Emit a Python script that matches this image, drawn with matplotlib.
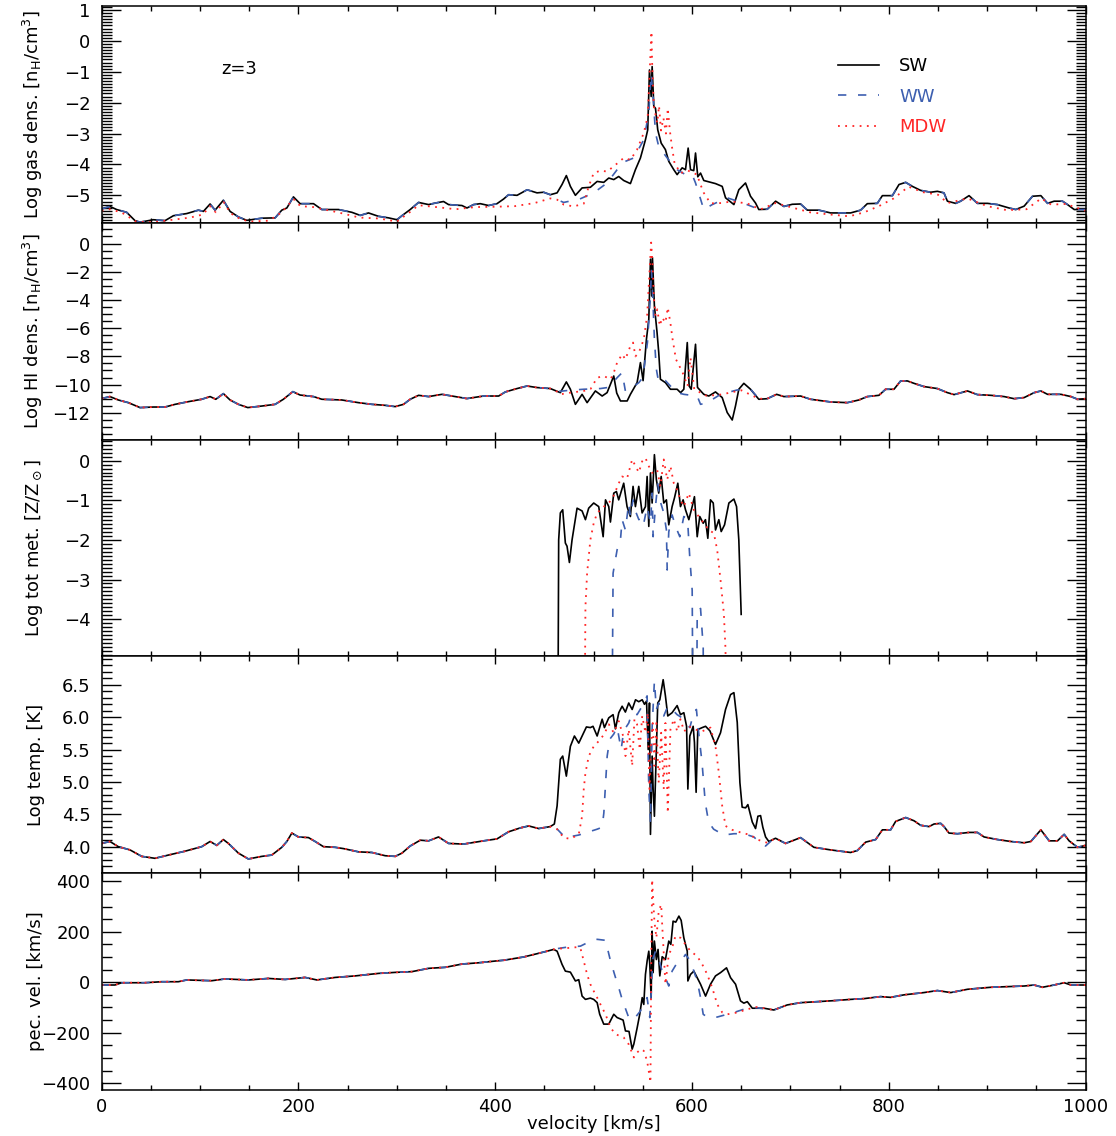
import numpy as np
import matplotlib
matplotlib.use("Agg")
import matplotlib.pyplot as plt
from matplotlib.ticker import MultipleLocator, FormatStrFormatter

# ---------------- Panel 1: Log gas density ----------------
gas_left_x = [0, 8.4, 15.2, 25.4, 33.9, 39, 52.5, 64.4, 72.9, 86.5, 98.3, 103.4, 110.2, 115.3, 123.7, 130.5,
              139, 147.5, 162.8, 176.3, 183.1, 188.2, 194.9, 201.7, 215.3, 223.8, 240.7, 254.3, 262.8, 271.2,
              281.4, 291.6, 300.1, 305.2, 313.6, 322.1, 332.3, 339.1, 347.5, 352.6, 366.2, 371.3, 378, 384.8,
              393.3, 401.8, 408.5, 413.6, 422.2, 432.4, 442.5, 449.2, 456]
gas_left = [-5.44, -5.36, -5.46, -5.55, -5.82, -5.87, -5.79, -5.82, -5.66, -5.59, -5.48, -5.52, -5.28, -5.48,
            -5.16, -5.52, -5.70, -5.81, -5.74, -5.73, -5.48, -5.41, -5.05, -5.27, -5.27, -5.46, -5.46, -5.55,
            -5.65, -5.57, -5.68, -5.73, -5.79, -5.66, -5.46, -5.23, -5.30, -5.25, -5.20, -5.30, -5.33, -5.41,
            -5.30, -5.27, -5.33, -5.27, -5.12, -4.98, -5.0, -4.82, -4.92, -4.9, -4.98]
gas_sw_x = [462.9, 467.9, 472.3, 476.4, 481.5, 488.3, 496.7, 503.6, 510.3, 515.4, 520.5, 525.5, 530.6, 537.4,
            542.5, 547.6, 552.7, 555, 556.8, 558.5, 559.5, 561.2, 562.9, 565.2, 568.7, 573, 576.4, 581.5, 584.9,
            590, 593.4, 596.1, 598.5, 601.8, 603.6, 605.9, 608.7, 612, 623.9, 630.7, 634.1, 642.6, 647.6, 654.4,
            659.5, 664.6]
gas_sw = [-4.92, -4.65, -4.36, -4.71, -5.0, -4.76, -4.74, -4.55, -4.58, -4.44, -4.49, -4.39, -4.52, -4.62,
          -4.17, -3.79, -3.20, -2.88, -0.94, -1.80, -0.83, -2.12, -2.18, -2.88, -3.31, -3.52, -3.90, -4.17, -4.33,
          -4.11, -4.17, -3.47, -4.17, -4.2, -3.63, -4.4, -4.28, -4.52, -4.62, -4.71, -5.08, -5.30, -4.82, -4.60,
          -5.03, -5.25]
gas_ww_x = [462.9, 469.6, 485.9, 500.1, 513.7, 523.9, 532.3, 540.8, 551, 556.1, 558.5, 560.5, 562.9, 566.2,
            574.8, 584.9, 593.4, 600.2, 603.6, 612, 620.6, 635.8, 652.7, 664]
gas_ww = [-5.14, -5.23, -5.12, -4.92, -4.60, -4.17, -3.90, -3.79, -3.20, -2.34, -1.05, -1.8, -2.98, -3.42,
          -3.79, -4.17, -4.33, -4.33, -4.6, -5.46, -5.30, -5.08, -5.26, -5.4]
gas_mdw_x = [462.9, 469.6, 479.8, 490, 495, 500.1, 506.9, 513.7, 520.5, 530.6, 537.4, 544.2, 551, 555, 558.8,
             559.5, 561.2, 564.7, 566.5, 568.5, 571, 573.5, 575.4, 577.5, 579.5, 582.2, 588.3, 596, 605.3, 608,
             612, 618.8, 630, 640, 656.1, 666.3]
gas_mdw = [-5.14, -5.30, -5.36, -5.27, -4.71, -4.28, -4.20, -4.23, -4.06, -3.79, -3.85, -3.52, -2.98, -2.45,
           0.3, -0.72, -2.12, -2.66, -2.1, -2.9, -2.5, -3.0, -2.18, -2.9, -3.4, -3.95, -4.28, -4.2, -4.33, -4.6,
           -4.92, -5.26, -5.25, -5.2, -5.26, -5.41]
gas_mdw_left_x = [0, 8, 20, 35, 52, 70, 90, 103, 110, 116, 124, 131, 140, 150, 170, 183, 195, 202, 215, 240,
                  262, 282, 300, 313, 322, 340, 360, 380, 400, 420, 440, 456]
gas_mdw_left = [-5.50, -5.45, -5.55, -5.85, -5.87, -5.80, -5.72, -5.62, -5.35, -5.55, -5.22, -5.58, -5.75,
                -5.85, -5.82, -5.55, -5.12, -5.35, -5.38, -5.55, -5.72, -5.75, -5.85, -5.55, -5.32, -5.38,
                -5.45, -5.38, -5.37, -5.35, -5.25, -5.10]
gas_right_x = [667.9, 676.5, 685, 693.4, 701.9, 710.4, 717.2, 729, 740.9, 761.2, 771.4, 778.2, 788.4, 793.5,
               803.7, 810.4, 817.2, 824, 832.4, 842.6, 849.4, 856.1, 859.6, 868, 873, 881.6, 890.1, 900.3,
               910.5, 922.3, 929.1, 937.6, 946.1, 954.6, 961.4, 968.1, 976.6, 981.7, 988.5, 1000]
gas_right = [-5.46, -5.45, -5.19, -5.36, -5.29, -5.28, -5.48, -5.48, -5.57, -5.57, -5.48, -5.27, -5.26, -5.01,
             -5.01, -4.65, -4.58, -4.71, -4.84, -4.90, -4.87, -4.92, -5.19, -5.26, -5.19, -5.01, -5.26, -5.26,
             -5.30, -5.41, -5.46, -5.35, -5.03, -5.01, -5.26, -5.19, -5.19, -5.30, -5.46, -5.46]
gas_mdw_right_x = [670, 685, 700, 720, 740, 760, 775, 790, 805, 820, 835, 850, 860, 880, 900, 920, 940, 955,
                   965, 980, 1000]
gas_mdw_right = [-5.45, -5.25, -5.38, -5.55, -5.62, -5.68, -5.55, -5.35, -5.10, -4.72, -4.9, -4.98, -5.25,
                 -5.1, -5.35, -5.48, -5.45, -5.1, -5.3, -5.28, -5.5]

# ---------------- Panel 2: Log HI density ----------------
hi_left_x = [0, 8.4, 16.9, 27.1, 39, 52.5, 64.4, 74.6, 88.1, 101.7, 110.2, 116, 123.7, 130.5, 139, 148.5,
             162.8, 176.3, 184.7, 194.3, 201.7, 215.3, 223.8, 244.1, 261, 274.7, 288.2, 298.4, 306.8, 313.6,
             322.1, 332.3, 345.9, 356, 371.3, 388.2, 403.5, 410.3, 422.2, 432.4, 442.5, 456]
hi_left = [-10.99, -10.85, -11.09, -11.28, -11.63, -11.59, -11.59, -11.40, -11.21, -11.04, -10.85, -11.04,
           -10.64, -11.09, -11.40, -11.63, -11.52, -11.40, -11.04, -10.50, -10.74, -10.85, -11.04, -11.09,
           -11.28, -11.40, -11.47, -11.56, -11.40, -11.04, -10.76, -10.85, -10.69, -10.81, -10.99, -10.81,
           -10.81, -10.52, -10.28, -10.10, -10.21, -10.28]
hi_sw_x = [466.2, 472.3, 476.4, 481.5, 488.3, 493.4, 501.8, 508.7, 513.7, 520.5, 523.5, 527.3, 534.1, 537.4,
           544.2, 547.6, 550.3, 553.7, 556.1, 557.8, 559.1, 559.8, 561.8, 564.5, 566.2, 567.9, 573, 578.1, 584.9,
           588.4, 591.7, 595.2, 597.1, 599.2, 603.6, 605.6, 612, 617.1, 623.9, 630.7, 635.8, 640.9, 644.2,
           647.6, 652.7, 659.5, 667.9]
hi_sw = [-10.57, -9.81, -10.33, -11.40, -10.69, -11.28, -10.45, -10.81, -10.57, -9.39, -10.6, -11.16, -11.16,
         -10.69, -9.86, -8.44, -9.72, -6.79, -5.37, -1.11, -3.72, -0.99, -4.43, -6.31, -7.73, -9.62, -9.86,
         -10.33, -10.33, -10.57, -10.33, -7.02, -10.10, -10.33, -7.14, -10.2, -10.69, -10.81, -10.52, -10.92,
         -11.98, -12.51, -11.52, -10.33, -9.91, -10.33, -11.04]
hi_ww_x = [462.9, 476, 490, 506.9, 515, 523.9, 529, 532.3, 539.2, 546, 550, 554.7, 557.8, 558.8, 560.5, 561.8,
           563.8, 566.2, 573, 578.1, 584.9, 591.7, 605.3, 608.7, 615.4, 629.1, 646, 659.5, 668]
hi_ww = [-10.5, -10.4, -10.33, -10.28, -10.2, -9.51, -9.15, -10.45, -10.21, -9.86, -9.5, -7.02, -3.72, -1.82,
         -4.43, -6.79, -8.91, -9.86, -9.72, -10.10, -10.57, -10.69, -10.81, -11.40, -11.28, -10.69, -10.38,
         -10.33, -11.0]
hi_mdw_x = [462.9, 466.2, 476.4, 490, 497, 503.6, 510.3, 517.2, 520.5, 523.9, 529, 532.3, 537.4, 540.1, 542.5,
            546, 551, 554.4, 556.8, 558.5, 559.8, 561.2, 562.9, 564.7, 567.3, 569.7, 573, 575.4, 578, 580.3,
            583.7, 587.1, 590.5, 595.5, 598.5, 602.3, 608.6, 615, 630, 650, 668]
hi_mdw = [-10.5, -10.69, -10.57, -10.45, -10.3, -9.51, -9.39, -9.62, -9.15, -8.44, -7.85, -8.21, -7.26, -7.02,
          -8.0, -7.73, -6.79, -5.13, -2.06, 0.07, -1.35, -3.72, -5.13, -4.66, -5.84, -5.25, -5.6, -4.54, -5.6,
          -6.79, -8.21, -8.67, -9.15, -10.10, -8.1, -10.33, -10.57, -10.8, -10.7, -10.4, -11.0]
hi_right_x = [676.5, 686, 693.4, 710.4, 720.5, 740.9, 757.9, 769.7, 778.2, 790, 796.8, 805.3, 812.1, 818.9,
              825.6, 835.8, 849.4, 859.6, 866.4, 880, 890.1, 903.7, 917.3, 927.5, 937.6, 947.8, 954.6, 961.4,
              975, 985.2, 992, 1000]
hi_right = [-11.0, -10.69, -10.85, -10.81, -11.04, -11.23, -11.28, -11.09, -10.85, -10.76, -10.33, -10.33,
            -9.74, -9.74, -9.91, -10.14, -10.28, -10.57, -10.71, -10.45, -10.71, -10.76, -10.85, -11.0, -10.92,
            -10.57, -10.45, -10.69, -10.69, -10.85, -11.04, -11.0]

# ---------------- Panel 3: Log total metallicity ----------------
met_sw_x = [463.2, 464.5, 466.2, 468.6, 471.3, 473, 475.4, 478.1, 483.2, 488.3, 491.7, 495, 500.1, 505.2,
            509.7, 512.1, 515.4, 517.1, 520.5, 523.2, 525.5, 530.6, 534, 537.4, 540.1, 542.5, 545.9, 549.3,
            552.7, 554.4, 556.1, 557.8, 559.5, 561.8, 563.8, 566.2, 568.7, 571.3, 574, 576.4, 579.8, 582.2,
            585.6, 588.3, 591, 593.4, 596.8, 600.2, 602.5, 605.3, 607.9, 611.4, 613.7, 616.1, 618.8, 621.6,
            623.9, 627.3, 629.7, 633.1, 637.5, 642.6, 645.3, 647.6, 650]
met_sw = [-10, -2.0, -1.32, -1.24, -2.08, -2.16, -2.57, -2.0, -1.20, -1.27, -1.49, -1.20, -1.07, -1.16, -1.92,
          -0.99, -1.16, -1.55, -0.82, -0.78, -0.99, -0.57, -1.16, -1.41, -0.65, -1.16, -0.65, -1.32, -1.16,
          -0.40, -1.66, -0.31, -1.07, 0.15, -0.48, -0.82, -0.40, -1.07, -0.99, -1.62, -1.16, -0.94, -0.57,
          -1.16, -0.99, -1.24, -1.49, -1.16, -0.91, -1.92, -1.41, -1.58, -1.49, -1.96, -0.99, -1.07, -1.75,
          -1.49, -1.79, -1.62, -1.07, -0.97, -1.16, -2.0, -3.88]
met_ww_x = [517.8, 519.8, 523.9, 527.3, 529, 532.3, 535.7, 537.4, 540.1, 542.5, 546, 548.3, 551, 554.4, 557.8,
            559.5, 560.5, 562.9, 565.2, 567.3, 571.3, 574, 574.8, 576.4, 579.8, 583.3, 587.6, 591.7, 595.5,
            597.7, 600.2, 601.8, 604, 605.3, 608.7, 610, 611.4, 612.2]
met_ww = [-10, -2.84, -2.25, -2.0, -1.49, -1.75, -1.07, -1.41, -0.99, -1.27, -1.49, -1.41, -1.58, -1.16,
          -1.58, -0.82, -1.92, -1.16, -0.57, -0.99, -1.32, -1.75, -2.76, -1.8, -1.37, -1.66, -1.92, -1.41,
          -1.49, -2.42, -3.27, -10, -10, -3.86, -3.73, -4.2, -4.70, -10]
met_mdw_x = [490, 491.7, 493.4, 496.7, 500.1, 503.6, 510.4, 515.5, 520.5, 525.6, 529, 534, 539.2, 542.6, 546,
             549.3, 552.7, 556.1, 559.5, 564.6, 567.9, 571.3, 574.8, 578.1, 581.5, 584.9, 588.4, 591.7, 596.8,
             601.8, 606.9, 612, 617.1, 622.2, 625.6, 629, 632.4, 634.1, 635]
met_mdw = [-10, -3.69, -2.84, -2.0, -1.58, -1.32, -1.16, -1.07, -0.88, -0.57, -0.40, -0.45, 0.03, -0.14, -0.3,
           -0.02, 0.07, -0.14, -0.31, -0.23, -0.65, 0.03, -0.48, -0.14, -0.57, -0.74, -0.99, -1.16, -0.82,
           -1.24, -1.41, -1.58, -1.75, -1.83, -2.25, -3.01, -3.86, -4.78, -10]

# ---------------- Panel 4: Log temperature ----------------
temp_left_x = [0, 8.4, 16.9, 28.8, 40.7, 54.2, 67.8, 84.7, 101.7, 110.2, 117, 123.7, 128.8, 139, 149.1,
               162.8, 172.9, 183.1, 188.2, 193.3, 200, 210.2, 217, 225.4, 237.3, 245.8, 261, 274.7, 288.2,
               298.4, 305.2, 313.6, 323.8, 332.3, 342.4, 352.6, 367.9, 388.2, 401.8, 413.6, 425.5, 434, 444.2,
               456]
temp_left = [4.05, 4.08, 4.0, 3.95, 3.85, 3.82, 3.87, 3.93, 4.0, 4.08, 4.02, 4.11, 4.05, 3.90, 3.81, 3.85,
             3.87, 3.99, 4.08, 4.21, 4.15, 4.14, 4.08, 4.0, 3.99, 3.97, 3.92, 3.91, 3.86, 3.85, 3.90, 4.01,
             4.10, 4.09, 4.15, 4.05, 4.04, 4.09, 4.12, 4.23, 4.29, 4.32, 4.28, 4.31]
temp_sw_x = [460.1, 462.9, 466.2, 468.6, 472.3, 476.4, 480.5, 484.9, 492.7, 496.7, 499.4, 503.6, 508.7, 511,
             515.4, 519.8, 522.2, 525.6, 529, 532.3, 535.7, 539.2, 542.6, 545.9, 549.4, 551.7, 553.8, 555.5,
             556.8, 557.8, 559.5, 560.5, 561.8, 563.6, 565.2, 567.3, 570.7, 573, 575.4, 579.8, 584.9, 588.3,
             591.7, 594.5, 595.8, 597.8, 601.2, 602.5, 604.2, 605.9, 610.4, 613.8, 618.2, 623.9, 629, 634.1,
             639.2, 642.6, 646, 648.7, 651, 654.5, 656.8, 661.3, 664.6, 667, 669.7, 672, 674.8, 678.1]
temp_sw = [4.35, 4.63, 5.35, 5.40, 5.09, 5.55, 5.71, 5.60, 5.85, 5.84, 5.86, 5.71, 5.97, 5.84, 5.99, 6.04,
           5.82, 6.07, 6.17, 6.08, 6.22, 6.12, 6.27, 6.24, 6.27, 6.20, 6.25, 5.50, 6.22, 4.19, 5.40, 4.89, 4.47,
           5.40, 6.22, 6.27, 6.58, 6.33, 6.02, 6.07, 6.18, 6.04, 6.07, 5.86, 4.89, 5.71, 5.86, 5.61, 4.84, 5.81,
           5.84, 5.86, 5.79, 5.58, 5.76, 6.12, 6.35, 6.38, 5.92, 4.99, 4.61, 4.60, 4.65, 4.38, 4.28, 4.47, 4.48,
           4.3, 4.15, 4.08]
temp_ww_x = [459.4, 466.2, 471.3, 485, 503.6, 508.7, 510.4, 513.8, 516.4, 520.5, 523.9, 528, 530.6, 535.7,
             539.2, 544.2, 549.3, 554.4, 556.1, 557.8, 559.5, 561.8, 563.8, 566.2, 571.3, 575.4, 579.8, 584.9,
             590, 593.4, 597.8, 601.8, 604.5, 606.8, 610.2, 613.5, 616.9, 622, 632.4, 642.6, 652.7, 662.9,
             669.7, 674.8, 679.8]
temp_ww = [4.33, 4.22, 4.14, 4.18, 4.27, 4.30, 4.52, 5.40, 5.66, 5.74, 5.85, 5.50, 5.79, 5.91, 6.07, 6.04,
           6.17, 6.33, 4.89, 4.37, 5.85, 6.56, 6.12, 6.22, 6.02, 6.17, 6.12, 6.04, 5.99, 5.91, 5.84, 6.07, 6.12,
           5.76, 5.30, 4.68, 4.38, 4.27, 4.18, 4.20, 4.20, 4.15, 4.05, 4.01, 4.08]
temp_mdw_x = [462.9, 469.6, 476.4, 484.9, 488.3, 490, 491.7, 495.1, 500.1, 505.2, 510.4, 515.5, 520.5, 525.6,
              530, 532.4, 535.7, 539.2, 541.5, 544.2, 546.9, 549.4, 552.7, 555.1, 556.8, 558.5, 560.1, 561.8,
              563.8, 566.2, 568.7, 571.3, 573, 575.4, 578.1, 581.5, 585, 588.3, 592, 596.8, 603.6, 610, 618.8,
              623.9, 627.3, 630.7, 634.1, 640.9, 649.3, 659.5, 666.3, 676.5]
temp_mdw = [4.27, 4.14, 4.12, 4.19, 4.47, 4.89, 5.14, 5.40, 5.55, 5.63, 5.73, 5.89, 5.76, 5.94, 5.71, 5.40,
            5.81, 5.25, 5.97, 5.89, 5.50, 6.02, 5.76, 6.07, 4.89, 5.61, 5.91, 5.25, 5.91, 4.99, 5.76, 4.89,
            5.91, 4.52, 5.81, 5.97, 5.78, 5.97, 5.78, 5.86, 5.81, 5.78, 5.84, 5.55, 5.14, 4.63, 4.32, 4.26,
            4.22, 4.18, 4.11, 4.06]
temp_right_x = [684.9, 695.1, 710.4, 723.9, 740.9, 761.2, 768, 776.5, 786.7, 793.5, 801.9, 807, 817.2, 825.7,
                832.4, 840.9, 846, 852.8, 856.2, 861.2, 869.8, 881.6, 890.1, 896.9, 910.5, 924, 937.6, 944.4,
                954.6, 963, 971.5, 978.3, 983.3, 991.9, 1000]
temp_right = [4.13, 4.05, 4.14, 3.99, 3.95, 3.91, 3.94, 4.07, 4.11, 4.26, 4.26, 4.39, 4.45, 4.40, 4.33, 4.31,
              4.35, 4.36, 4.31, 4.21, 4.20, 4.22, 4.22, 4.15, 4.11, 4.08, 4.06, 4.08, 4.26, 4.09, 4.09, 4.19,
              4.09, 3.99, 4.02]

# ---------------- Panel 5: peculiar velocity ----------------
vel_left_x = [0, 13.5, 20.3, 44, 61, 77.9, 86.5, 111.9, 125.4, 149.1, 169.5, 186.5, 206.8, 218.7, 237.3, 257.6,
              281.4, 298.4, 315.4, 332.3, 349.2, 366.2, 383.1, 400.1, 408.5, 428.9, 442.5, 452.7, 459.4]
vel_left = [-11, -11, -2, -2, 2, 2, 9, 6, 13, 9, 15, 11, 19, 9, 19, 25, 35, 39, 42, 55, 59, 72, 77, 84, 87,
            100, 113, 123, 130]
vel_sw_x = [462.9, 467.9, 471.3, 476.4, 481.5, 484.9, 488.3, 491.7, 496.7, 500.1, 503.6, 506.2, 510.3, 515.4,
            520.5, 523.9, 530, 532.4, 536, 539.2, 540.9, 544.3, 546.9, 549.4, 551, 552.7, 554.4, 556.1, 557.1,
            558.5, 559.5, 560.5, 561.8, 563.8, 565.5, 567.3, 569.7, 573, 576.4, 578.5, 580.8, 583.5, 586.7, 589,
            591.7, 595.2, 595.8, 598.5, 601.9, 608.7, 613.8, 618.8, 623.9, 629, 635.1, 639.2, 644.3, 649.3,
            652.7, 656.2, 661.3, 673.1]
vel_sw = [123, 71, 44, 40, 5, 10, -55, -68, -63, -68, -81, -127, -166, -166, -127, -140, -150, -193, -195, -265,
          -245, -180, -127, -61, -88, 31, 84, 123, 71, -61, 202, 38, 163, 90, 130, 25, 101, 90, 163, 150, 242,
          238, 262, 245, 176, 123, 5, 31, 44, -8, -55, -8, 25, 38, 57, 18, -8, -74, -83, -77, -103, -103]
vel_ww_x = [462.9, 473, 486.6, 493.4, 503.6, 512.1, 517.2, 522.3, 525.6, 529, 535.7, 540, 544.3, 547.6, 551,
            554.4, 557.1, 558.5, 560.1, 562.9, 566.2, 569.7, 573, 576.4, 579.8, 584.9, 590, 593.4, 598.5, 601.9,
            605.3, 608.7, 611.4, 615.4, 625.6, 635.9, 642.6, 652.7, 662.9, 673]
vel_ww = [133, 139, 143, 156, 170, 166, 84, 18, -22, -68, -140, -150, -130, -114, -88, -61, -140, -48, 90, 123,
          90, 44, 18, -15, 44, 77, 90, 110, 84, 44, 5, -61, -127, -138, -138, -127, -120, -107, -100, -105]
vel_mdw_x = [462.9, 469.6, 483.2, 486.6, 490, 493.4, 496.7, 500.1, 503.6, 507, 512.1, 517.2, 522.3, 530.6,
             535.7, 540.9, 544.3, 548.3, 551, 554.4, 557.1, 557.8, 558.5, 559.5, 560.8, 561.8, 563.8, 566.2,
             568.7, 569.7, 573, 576.4, 579.8, 583.2, 588.3, 593.4, 598.5, 605.3, 610.4, 615.5, 620.6, 625.7,
             630.8, 635.9, 646, 656.2, 666.3, 676]
vel_mdw = [133, 134, 139, 135, 84, 31, -8, -35, -61, -88, -127, -180, -206, -219, -246, -298, -278, -265, -272,
           -312, -378, -397, 44, 407, 308, 242, 176, 282, 308, 229, -8, 110, 136, 183, 176, 150, 123, 103, 71, 31,
           -22, -88, -120, -127, -120, -107, -98, -105]
vel_right_x = [683.2, 696.8, 710.4, 727.3, 744.3, 761.2, 774.8, 791.7, 801.9, 815.5, 835.8, 849.4, 863, 880,
               903.7, 924, 937.6, 947.7, 956.2, 968.1, 978.3, 985.2, 1000]
vel_right = [-110, -90, -81, -77, -73, -68, -65, -57, -60, -50, -41, -33, -41, -28, -20, -17, -15, -11, -20, -11,
             -2, -11, -11]

# ---------------- labels ----------------
ylabels = [r"Log gas dens. [n$_\mathregular{H}$/cm$^\mathregular{3}$]",
           r"Log HI dens. [n$_\mathregular{H}$/cm$^\mathregular{3}$]",
           r"Log tot met. [Z/Z$_\odot$]",
           "Log temp. [K]",
           "pec. vel. [km/s]"]
series_names = ["SW", "WW", "MDW"]
xlabel = "velocity [km/s]"
redshift_text = "z=3"

BLACK = "black"
BLUE = "#3d5fb0"
RED = "#ff2525"


def join(*parts):
    xs = np.concatenate([np.asarray(p[0], float) for p in parts])
    ys = np.concatenate([np.asarray(p[1], float) for p in parts])
    return xs, ys


panels = [
    (join((gas_left_x, gas_left), (gas_sw_x, gas_sw), (gas_right_x, gas_right)),
     join((gas_left_x, gas_left), (gas_ww_x, gas_ww), (gas_right_x, gas_right)),
     join((gas_mdw_left_x, gas_mdw_left), (gas_mdw_x, gas_mdw), (gas_mdw_right_x, gas_mdw_right))),
    (join((hi_left_x, hi_left), (hi_sw_x, hi_sw), (hi_right_x, hi_right)),
     join((hi_left_x, hi_left), (hi_ww_x, hi_ww), (hi_right_x, hi_right)),
     join((hi_left_x, hi_left), (hi_mdw_x, hi_mdw), (hi_right_x, hi_right))),
    (join((met_sw_x, met_sw)), join((met_ww_x, met_ww)), join((met_mdw_x, met_mdw))),
    (join((temp_left_x, temp_left), (temp_sw_x, temp_sw), (temp_right_x, temp_right)),
     join((temp_left_x, temp_left), (temp_ww_x, temp_ww), (temp_right_x, temp_right)),
     join((temp_left_x, temp_left), (temp_mdw_x, temp_mdw), (temp_right_x, temp_right))),
    (join((vel_left_x, vel_left), (vel_sw_x, vel_sw), (vel_right_x, vel_right)),
     join((vel_left_x, vel_left), (vel_ww_x, vel_ww), (vel_right_x, vel_right)),
     join((vel_left_x, vel_left), (vel_mdw_x, vel_mdw), (vel_right_x, vel_right))),
]

ylims = [(-5.89, 1.13), (-13.9, 1.47), (-4.94, 0.53), (3.59, 6.94), (-427, 432)]
majors = [1, 2, 1, 0.5, 200]
minors = [0.1, 0.5, 0.1, 0.1, 50]

plt.rcParams["font.family"] = "DejaVu Sans"
plt.rcParams["axes.linewidth"] = 1.1
plt.rcParams["mathtext.default"] = "regular"

fig = plt.figure(figsize=(11.16, 11.36), dpi=100)
left, right = 0.0911, 0.9727
top, bottom = 0.9947, 0.0405
h = (top - bottom) / 5

for i in range(5):
    ax = fig.add_axes([left, top - (i + 1) * h, right - left, h])
    (xs, ys), (xw, yw), (xm, ym) = panels[i]
    ax.plot(xs, ys, color=BLACK, lw=1.2, label=series_names[0])
    ax.plot(xw, yw, color=BLUE, lw=1.2, linestyle=(0, (5, 7)), label=series_names[1])
    ax.plot(xm, ym, color=RED, lw=1.3, linestyle=(0, (1, 3)), label=series_names[2])
    ax.set_xlim(0, 1000)
    ax.set_ylim(*ylims[i])
    ax.xaxis.set_major_locator(MultipleLocator(200))
    ax.xaxis.set_minor_locator(MultipleLocator(50))
    ax.yaxis.set_major_locator(MultipleLocator(majors[i]))
    ax.yaxis.set_minor_locator(MultipleLocator(minors[i]))
    if i == 3:
        ax.yaxis.set_major_formatter(FormatStrFormatter("%.1f"))
    ax.tick_params(which="both", direction="in", top=True, right=True, labelsize=13, width=1.0)
    ax.tick_params(axis="y", which="major", length=14, pad=8)
    ax.tick_params(axis="y", which="minor", length=7)
    ax.tick_params(axis="x", which="major", length=6, pad=6)
    ax.tick_params(axis="x", which="minor", length=3.5)
    ax.set_ylabel(ylabels[i], fontsize=13)
    ax.yaxis.set_label_coords(-0.058, 0.5)
    if i < 4:
        ax.tick_params(axis="x", labelbottom=False)
    else:
        ax.set_xlabel(xlabel, fontsize=13, labelpad=-1)
    if i == 0:
        ax.text(0.122, 0.71, redshift_text, transform=ax.transAxes, fontsize=13, ha="left", va="center")
        ax.legend(loc="upper left", bbox_to_anchor=(0.748, 0.765), frameon=False, fontsize=13,
                  handlelength=2.3, handletextpad=1.1, labelspacing=0.7, borderpad=0, borderaxespad=0,
                  labelcolor="linecolor")

fig.savefig("out.png", dpi=100)
